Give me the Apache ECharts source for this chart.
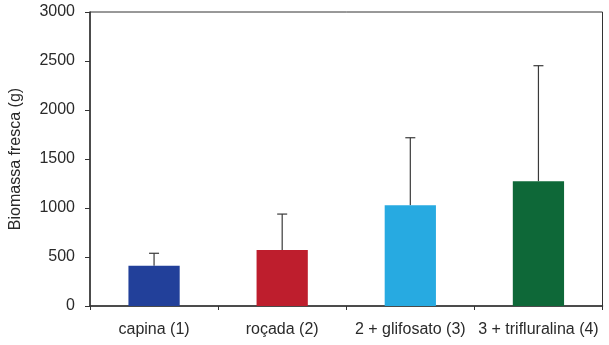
<!DOCTYPE html>
<html><head><meta charset="utf-8">
<script src="https://cdn.jsdelivr.net/npm/echarts@6/dist/echarts.min.js"></script>
<style>html,body{margin:0;padding:0;background:#fff}#c{width:609px;height:345px}</style>
</head><body><div id="c"></div>
<script>
const categories = ['capina (1)', 'roçada (2)', '2 + glifosato (3)', '3 + trifluralina (4)'];
const means = [410, 572, 1028, 1273];
const errorTops = [538, 938, 1717, 2452];
const colors = ['#22409A', '#BE1E2D', '#27AAE1', '#0E6838'];
const yTicks = [0, 500, 1000, 1500, 2000, 2500, 3000];

const chart = echarts.init(document.getElementById('c'));
const font = 'Liberation Sans, Arial, sans-serif';
chart.setOption({
  animation: false,
  grid: { left: 88.5, right: 6.5, top: 12, bottom: 39, show: true, borderColor: '#333', borderWidth: 1 },
  xAxis: {
    type: 'category', data: categories,
    axisLine: { lineStyle: { color: '#333', width: 1.5 } },
    axisTick: { show: true, length: 4, alignWithLabel: false, lineStyle: { color: '#333' } },
    axisLabel: { color: '#2a2a2a', fontSize: 16, fontFamily: font, margin: 16, interval: 0 }
  },
  yAxis: {
    type: 'value', min: 0, max: 3000, interval: 500,
    name: 'Biomassa fresca (g)', nameLocation: 'middle', nameGap: 66,
    nameTextStyle: { color: '#2a2a2a', fontSize: 16, fontFamily: font },
    axisLine: { show: true, lineStyle: { color: '#333', width: 1.5 } },
    axisTick: { show: true, length: 5, lineStyle: { color: '#333' } },
    axisLabel: { color: '#2a2a2a', fontSize: 16, fontFamily: font, margin: 15,
      formatter: v => yTicks.includes(v) ? String(v) : '' },
    splitLine: { show: false }
  },
  series: [
    {
      type: 'custom',
      z: 1,
      data: categories.map((c, i) => [i, means[i], errorTops[i]]),
      renderItem: function (params, api) {
        const x = api.value(0);
        const lo = api.coord([x, api.value(1)]);
        const hi = api.coord([x, api.value(2)]);
        const hw = 5;
        const st = { stroke: '#3a3a3a', lineWidth: 1.2 };
        return { type: 'group', children: [
          { type: 'line', shape: { x1: lo[0], y1: lo[1], x2: hi[0], y2: hi[1] }, style: st },
          { type: 'line', shape: { x1: hi[0] - hw, y1: hi[1], x2: hi[0] + hw, y2: hi[1] }, style: st }
        ]};
      }
    },
    {
      type: 'bar', z: 2,
      barWidth: '40%',
      data: means.map((v, i) => ({ value: v, itemStyle: { color: colors[i] } }))
    }
  ]
});
</script></body></html>
